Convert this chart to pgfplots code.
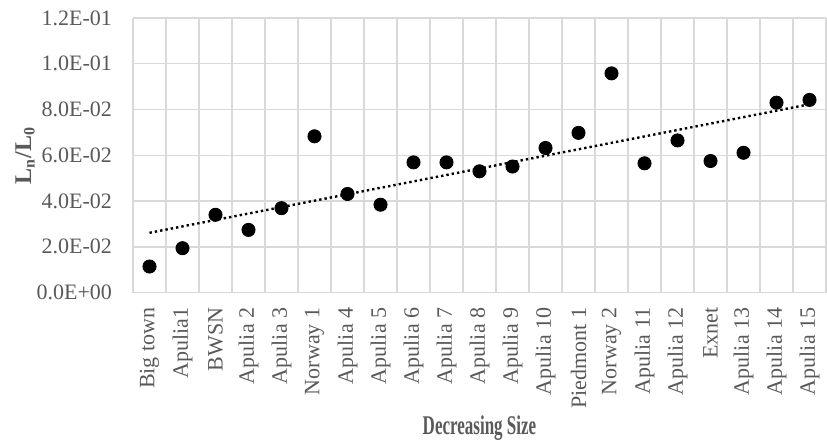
\documentclass[border=0pt]{standalone}
\usepackage{fontspec}
\setmainfont{Liberation Serif}
\newfontfamily\condfont[FakeStretch=0.63]{Liberation Serif}
\usepackage{pgfplots}
\usepackage{pgfplotstable}
\pgfplotsset{compat=1.18}
\definecolor{txt}{HTML}{595959}
\definecolor{grd}{HTML}{D9D9D9}
\pgfplotstableread{
x y
1 0.0114
2 0.0194
3 0.0340
4 0.0274
5 0.0369
6 0.0683
7 0.0431
8 0.0384
9 0.0569
10 0.0569
11 0.0530
12 0.0551
13 0.0632
14 0.0698
15 0.0958
16 0.0565
17 0.0665
18 0.0575
19 0.0611
20 0.0830
21 0.0842
}\data
\begin{document}
\begin{tikzpicture}
\begin{axis}[
 name=ax,
 scale only axis, width=346.5pt, height=137.3pt,
 xmin=0.5, xmax=21.5, ymin=0, ymax=0.12,
 xtick={1,...,21},
 xticklabels={Big town, Apulia1, BWSN, Apulia 2, Apulia 3, Norway 1, Apulia 4, Apulia 5, Apulia 6, Apulia 7, Apulia 8, Apulia 9, Apulia 10, Piedmont 1, Norway 2, Apulia 11, Apulia 12, Exnet, Apulia 13, Apulia 14, Apulia 15},
 minor xtick={0.5,1.5,...,21.5},
 xminorgrids, ymajorgrids,
 grid style={grd, line width=0.7pt},
 minor grid style={grd, line width=0.7pt},
 axis line style={draw=none},
 major tick length=0pt, minor tick length=0pt,
 tick style={draw=none},
 x tick label style={rotate=90, anchor=east, font=\fontsize{11}{12}\selectfont, text=txt, xshift=-4pt},
 ytick={0,0.02,0.04,0.06,0.08,0.10,0.12},
 yticklabels={0.0E+00,2.0E-02,4.0E-02,6.0E-02,8.0E-02,1.0E-01,1.2E-01},
 y tick label style={font=\fontsize{11}{12}\selectfont, text=txt, xshift=-7pt},
 xlabel={\condfont\bfseries\fontsize{13.5}{14}\selectfont Decreasing Size},
 xlabel style={at={(axis description cs:0.5,0)}, anchor=center, yshift=-68pt, text=txt},
 ylabel={\bfseries\fontsize{12}{13}\selectfont L\textsubscript{n}/L\textsubscript{0}},
 ylabel style={at={(axis description cs:0,0.5)}, anchor=center, yshift=54pt, text=txt},
 clip=false,
]
\addplot[only marks, mark=*, mark size=3.3pt, black] table[x=x, y=y] {\data};
\addplot[black, line width=1.2pt, dash pattern=on 1.2pt off 1.5pt] table[x=x, y={create col/linear regression={y=y}}] {\data};
\end{axis}
\pgfresetboundingbox
\path ([xshift=-66.5pt,yshift=-74.7pt]ax.south west) rectangle ([yshift=9pt,xshift=0.5pt]ax.north east);
\end{tikzpicture}
\end{document}
